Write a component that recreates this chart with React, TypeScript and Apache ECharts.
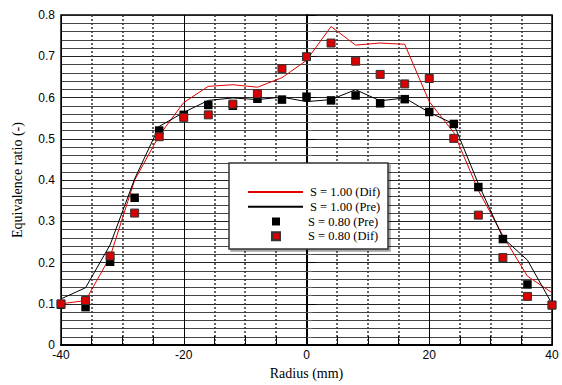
import React, { useEffect, useRef } from "react";
import * as echarts from "echarts";

const radius = [-40, -36, -32, -28, -24, -20, -16, -12, -8, -4, 0, 4, 8, 12, 16, 20, 24, 28, 32, 36, 40];
const s100Dif = [0.100, 0.108, 0.214, 0.400, 0.508, 0.588, 0.627, 0.631, 0.625, 0.648, 0.690, 0.772, 0.727, 0.732, 0.729, 0.590, 0.515, 0.375, 0.265, 0.167, 0.127];
const s100Pre = [0.112, 0.139, 0.243, 0.403, 0.530, 0.564, 0.593, 0.599, 0.595, 0.601, 0.590, 0.595, 0.619, 0.592, 0.599, 0.564, 0.536, 0.391, 0.260, 0.206, 0.100];
const s080Pre = [0.098, 0.092, 0.202, 0.357, 0.520, 0.558, 0.582, 0.580, 0.597, 0.595, 0.602, 0.593, 0.605, 0.586, 0.596, 0.565, 0.536, 0.383, 0.257, 0.147, 0.097];
const s080Dif = [0.100, 0.108, 0.216, 0.320, 0.505, 0.552, 0.558, 0.584, 0.609, 0.670, 0.699, 0.732, 0.688, 0.656, 0.633, 0.646, 0.501, 0.315, 0.212, 0.118, 0.097];
const seriesNames = ["S = 1.00 (Dif)", "S = 1.00 (Pre)", "S = 0.80 (Pre)", "S = 0.80 (Dif)"];

const pairs = (ys: number[]) => radius.map((x, i) => [x, ys[i]]);

export default function App() {
  const ref = useRef<HTMLDivElement>(null);
  useEffect(() => {
    if (!ref.current) return;
    const chart = echarts.init(ref.current, null, { renderer: "svg" });
    const sans = "Arial, 'Liberation Sans', sans-serif";
    const serif = "'Times New Roman', 'Liberation Serif', serif";
    const labelFont = { fontFamily: sans, fontSize: 12, color: "#000", lineHeight: 12 };
    chart.setOption({
      animation: false,
      backgroundColor: "#fff",
      textStyle: { fontFamily: serif },
      grid: { left: 61, right: 10, top: 15, bottom: 31, show: true, borderColor: "#000", borderWidth: 1.5, backgroundColor: "transparent" },
      xAxis: {
        type: "value",
        min: -40,
        max: 40,
        interval: 20,
        name: "Radius (mm)",
        nameLocation: "middle",
        nameGap: 15,
        nameTextStyle: { fontFamily: serif, fontSize: 14, color: "#000" },
        axisLine: { lineStyle: { color: "#000", width: 2 } },
        axisTick: { inside: true, length: 9, lineStyle: { color: "#000" } },
        minorTick: { show: true, splitNumber: 4, length: 9, lineStyle: { color: "#000" } },
        axisLabel: { ...labelFont, margin: 4 },
        splitLine: { show: true, lineStyle: { color: "#000", width: 1 } },
        minorSplitLine: { show: true, lineStyle: { color: "#333", width: 1.5, type: [2, 2] } },
      },
      yAxis: {
        type: "value",
        min: 0,
        max: 0.8,
        interval: 0.1,
        name: "Equivalence ratio (-)",
        nameLocation: "middle",
        nameGap: 37,
        nameTextStyle: { fontFamily: serif, fontSize: 14, color: "#000" },
        axisLine: { lineStyle: { color: "#000", width: 2 } },
        axisTick: { inside: true, length: 9, lineStyle: { color: "#000" } },
        minorTick: { show: true, splitNumber: 5, length: 6, lineStyle: { color: "#666" } },
        axisLabel: { ...labelFont, margin: 6, formatter: (v: number) => (v === 0 ? "0" : v.toFixed(1)) },
        splitLine: { show: true, lineStyle: { color: "#222", width: 1 } },
        minorSplitLine: { show: true, lineStyle: { color: "#444", width: 1 } },
      },
      graphic: [
        {
          type: "rect",
          z: 3,
          shape: { x: 229, y: 163, width: 159, height: 86 },
          style: { fill: "#fff", stroke: "#333", lineWidth: 1.5, shadowColor: "rgba(0,0,0,0.35)", shadowOffsetX: 2, shadowOffsetY: 2, shadowBlur: 1 },
        },
      ],
      legend: [
        {
          z: 5,
          left: 242,
          top: 180,
          orient: "vertical",
          itemWidth: 55,
          itemHeight: 14,
          itemGap: 0.7,
          itemStyle: { opacity: 0 },
          data: [seriesNames[0], seriesNames[1]],
          textStyle: { fontFamily: serif, fontSize: 12.5, color: "#000", lineHeight: 14, padding: [0, 0, 0, 2] },
        },
        {
          z: 5,
          left: 266,
          top: 209.5,
          orient: "vertical",
          itemWidth: 8,
          itemHeight: 8,
          itemGap: 0.7,
          data: [seriesNames[2], seriesNames[3]],
          textStyle: { fontFamily: serif, fontSize: 12.5, color: "#000", lineHeight: 14, padding: [0, 0, 0, 23] },
        },
      ],
      series: [
        {
          name: seriesNames[0],
          type: "line",
          data: pairs(s100Dif),
          symbol: "none",
          lineStyle: { color: "#e00000", width: 1 },
          itemStyle: { color: "#e00000" },
          z: 2,
        },
        {
          name: seriesNames[1],
          type: "line",
          data: pairs(s100Pre),
          symbol: "none",
          lineStyle: { color: "#000", width: 1 },
          itemStyle: { color: "#000" },
          z: 2,
        },
        {
          name: seriesNames[2],
          type: "scatter",
          data: pairs(s080Pre),
          symbol: "rect",
          symbolSize: 8.5,
          itemStyle: { color: "#000", opacity: 1 },
          z: 3,
        },
        {
          name: seriesNames[3],
          type: "scatter",
          data: pairs(s080Dif),
          symbol: "rect",
          symbolSize: 8,
          itemStyle: { color: "#d80000", borderColor: "#333", borderWidth: 1, opacity: 1 },
          z: 4,
        },
      ],
    });
    return () => chart.dispose();
  }, []);
  return <div ref={ref} style={{ position: "fixed", left: 0, top: 0, width: 562, height: 385 }} />;
}
